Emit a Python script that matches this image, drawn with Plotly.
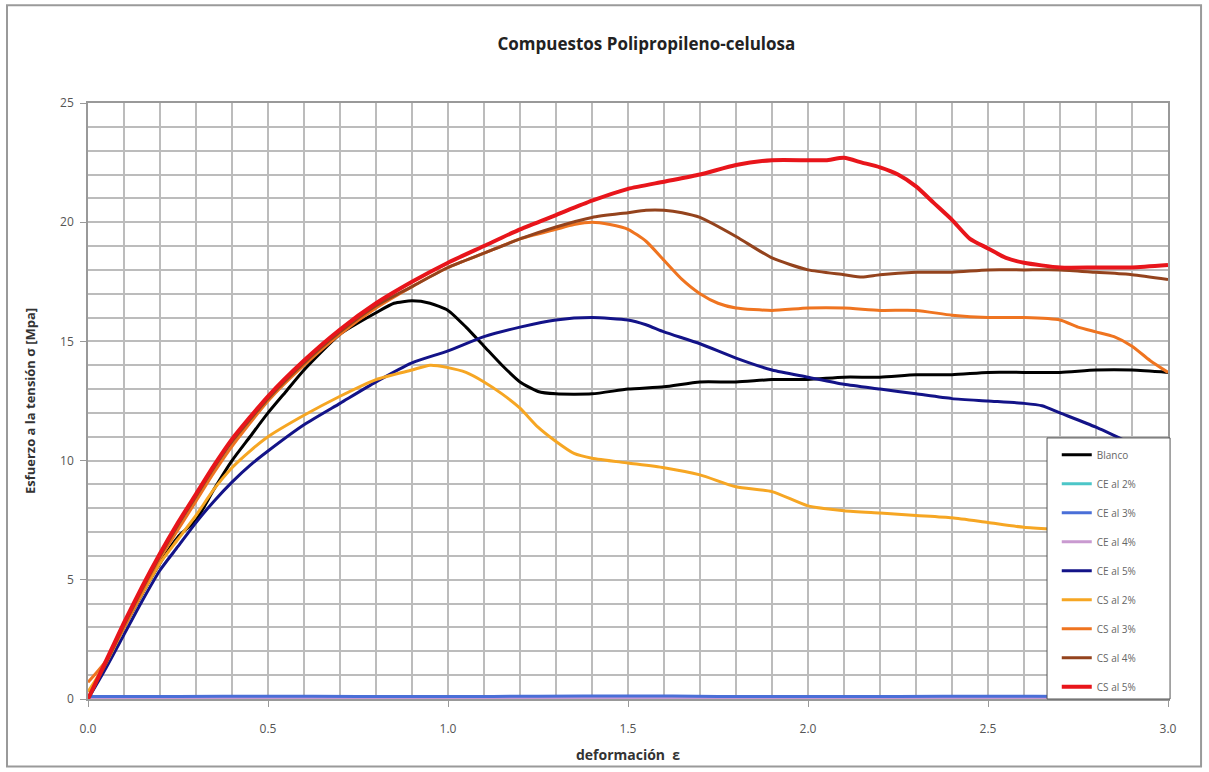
import plotly.graph_objects as go

# Strain grid shared by the near-zero CE series
x_flat = [0.0, 0.25, 0.5, 0.75, 1.0, 1.25, 1.5, 1.75, 2.0, 2.25, 2.5, 2.75, 3.0]

# Blanco
x_blanco = [0.0, 0.1, 0.2, 0.25, 0.3, 0.35, 0.4, 0.45, 0.5, 0.55, 0.6, 0.7, 0.8, 0.85, 0.9, 0.95,
            1.0, 1.05, 1.1, 1.15, 1.2, 1.25, 1.3, 1.4, 1.5, 1.6, 1.7, 1.8, 1.9, 2.0, 2.1, 2.2,
            2.3, 2.4, 2.5, 2.6, 2.7, 2.8, 2.9, 3.0]
y_blanco = [0.0, 3.0, 5.7, 6.8, 7.5, 8.8, 10.0, 11.0, 12.0, 12.9, 13.8, 15.3, 16.2, 16.6, 16.7, 16.6,
            16.3, 15.6, 14.8, 14.0, 13.3, 12.9, 12.8, 12.8, 13.0, 13.1, 13.3, 13.3, 13.4, 13.4, 13.5, 13.5,
            13.6, 13.6, 13.7, 13.7, 13.7, 13.8, 13.8, 13.7]

# CE al 2% / 3% / 4% (stay at the baseline)
y_ce2 = [0.06, 0.07, 0.06, 0.08, 0.07, 0.06, 0.07, 0.08, 0.06, 0.07, 0.07, 0.06, 0.07]
y_ce3 = [0.10, 0.11, 0.12, 0.11, 0.10, 0.12, 0.13, 0.11, 0.10, 0.11, 0.12, 0.11, 0.10]
y_ce4 = [0.05, 0.06, 0.05, 0.05, 0.06, 0.05, 0.06, 0.05, 0.05, 0.06, 0.05, 0.05, 0.06]

# CE al 5%
x_ce5 = [0.0, 0.05, 0.1, 0.15, 0.2, 0.25, 0.3, 0.35, 0.4, 0.45, 0.5, 0.6, 0.7, 0.8, 0.9, 1.0,
         1.1, 1.2, 1.3, 1.4, 1.5, 1.55, 1.6, 1.7, 1.8, 1.9, 2.0, 2.1, 2.2, 2.3, 2.4, 2.5,
         2.6, 2.65, 2.7, 2.8, 2.9, 3.0]
y_ce5 = [0.0, 1.3, 2.7, 4.1, 5.4, 6.4, 7.4, 8.3, 9.1, 9.8, 10.4, 11.5, 12.4, 13.3, 14.1, 14.6,
         15.2, 15.6, 15.9, 16.0, 15.9, 15.7, 15.4, 14.9, 14.3, 13.8, 13.5, 13.2, 13.0, 12.8, 12.6, 12.5,
         12.4, 12.3, 12.0, 11.4, 10.7, 10.0]

# CS al 2%
x_cs2 = [0.0, 0.05, 0.1, 0.15, 0.2, 0.25, 0.3, 0.35, 0.4, 0.45, 0.5, 0.6, 0.7, 0.8, 0.9, 0.95,
         1.0, 1.05, 1.1, 1.15, 1.2, 1.25, 1.3, 1.35, 1.4, 1.5, 1.6, 1.7, 1.8, 1.9, 2.0, 2.1,
         2.2, 2.3, 2.4, 2.5, 2.6, 2.7, 2.8, 2.9, 3.0]
y_cs2 = [0.3, 1.5, 3.0, 4.4, 5.7, 6.7, 7.7, 8.8, 9.7, 10.4, 11.0, 11.9, 12.7, 13.4, 13.8, 14.0,
         13.9, 13.7, 13.3, 12.8, 12.2, 11.4, 10.8, 10.3, 10.1, 9.9, 9.7, 9.4, 8.9, 8.7, 8.1, 7.9,
         7.8, 7.7, 7.6, 7.4, 7.2, 7.1, 7.0, 6.9, 6.8]

# CS al 3%
x_cs3 = [0.0, 0.05, 0.1, 0.15, 0.2, 0.25, 0.3, 0.35, 0.4, 0.5, 0.6, 0.7, 0.8, 0.9, 1.0, 1.1,
         1.2, 1.3, 1.35, 1.4, 1.45, 1.5, 1.55, 1.6, 1.65, 1.7, 1.75, 1.8, 1.9, 2.0, 2.1, 2.2,
         2.3, 2.4, 2.5, 2.6, 2.7, 2.75, 2.8, 2.85, 2.9, 2.95, 3.0]
y_cs3 = [0.7, 1.6, 3.0, 4.5, 5.9, 7.1, 8.3, 9.5, 10.6, 12.5, 14.0, 15.3, 16.4, 17.3, 18.1, 18.7,
         19.3, 19.7, 19.9, 20.0, 19.9, 19.7, 19.2, 18.4, 17.6, 17.0, 16.6, 16.4, 16.3, 16.4, 16.4, 16.3,
         16.3, 16.1, 16.0, 16.0, 15.9, 15.6, 15.4, 15.2, 14.8, 14.2, 13.7]

# CS al 4%
x_cs4 = [0.0, 0.05, 0.1, 0.15, 0.2, 0.25, 0.3, 0.35, 0.4, 0.5, 0.6, 0.7, 0.8, 0.9, 1.0, 1.1,
         1.2, 1.3, 1.4, 1.5, 1.55, 1.6, 1.65, 1.7, 1.8, 1.9, 2.0, 2.1, 2.15, 2.2, 2.3, 2.4,
         2.5, 2.6, 2.7, 2.8, 2.9, 3.0]
y_cs4 = [0.0, 1.5, 3.1, 4.6, 6.0, 7.3, 8.5, 9.7, 10.8, 12.6, 14.1, 15.4, 16.5, 17.3, 18.1, 18.7,
         19.3, 19.8, 20.2, 20.4, 20.5, 20.5, 20.4, 20.2, 19.4, 18.5, 18.0, 17.8, 17.7, 17.8, 17.9, 17.9,
         18.0, 18.0, 18.0, 17.9, 17.8, 17.6]

# CS al 5%
x_cs5 = [0.0, 0.05, 0.1, 0.15, 0.2, 0.25, 0.3, 0.35, 0.4, 0.5, 0.6, 0.7, 0.8, 0.9, 1.0, 1.1,
         1.2, 1.3, 1.4, 1.5, 1.6, 1.7, 1.8, 1.9, 2.0, 2.05, 2.1, 2.15, 2.2, 2.25, 2.3, 2.35,
         2.4, 2.45, 2.5, 2.55, 2.6, 2.7, 2.8, 2.9, 3.0]
y_cs5 = [0.0, 1.6, 3.2, 4.7, 6.1, 7.4, 8.6, 9.8, 10.9, 12.7, 14.2, 15.5, 16.6, 17.5, 18.3, 19.0,
         19.7, 20.3, 20.9, 21.4, 21.7, 22.0, 22.4, 22.6, 22.6, 22.6, 22.7, 22.5, 22.3, 22.0, 21.5, 20.8,
         20.1, 19.3, 18.9, 18.5, 18.3, 18.1, 18.1, 18.1, 18.2]

series = [
    ("Blanco", x_blanco, y_blanco, "#000000", 3),
    ("CE al 2%", x_flat, y_ce2, "#4cc6c8", 3),
    ("CE al 4%", x_flat, y_ce4, "#c99ad0", 3),
    ("CE al 3%", x_flat, y_ce3, "#4a6fd8", 3),
    ("CE al 5%", x_ce5, y_ce5, "#131388", 3),
    ("CS al 2%", x_cs2, y_cs2, "#f6a623", 3),
    ("CS al 3%", x_cs3, y_cs3, "#ef7420", 3),
    ("CS al 4%", x_cs4, y_cs4, "#94431d", 3),
    ("CS al 5%", x_cs5, y_cs5, "#e8151b", 4),
]
legend_order = ["Blanco", "CE al 2%", "CE al 3%", "CE al 4%", "CE al 5%",
                "CS al 2%", "CS al 3%", "CS al 4%", "CS al 5%"]

fig = go.Figure()
for name, xs, ys, color, width in series:
    fig.add_trace(go.Scatter(
        x=xs, y=ys, name=name, mode="lines", legendgroup=name,
        legendrank=legend_order.index(name) + 1,
        line=dict(color=color, width=width, shape="spline", smoothing=0.6),
    ))

grid_col = "#bcbcbc"
font_main = "Open Sans, Liberation Sans, sans-serif"

fig.update_layout(
    width=1209, height=772,
    margin=dict(l=88, r=41, t=103, b=73),
    paper_bgcolor="white", plot_bgcolor="white",
    font=dict(family=font_main, color="#404040"),
    title=dict(text="<b>Compuestos Polipropileno-celulosa</b>",
               x=0.517, xref="paper", xanchor="center",
               y=1 - 44 / 772, yanchor="middle",
               font=dict(size=17, color="#222222")),
    showlegend=True,
    legend=dict(
        x=0.897, y=0.434, xanchor="left", yanchor="top",
        bgcolor="rgba(0,0,0,0)", borderwidth=0,
        font=dict(size=10, color="#666666"),
        tracegroupgap=10,
    ),
    xaxis=dict(
        range=[0, 3], dtick=0.5, tickformat=".1f", automargin=False,
        showgrid=True, gridcolor=grid_col, gridwidth=1.5,
        minor=dict(dtick=0.1, showgrid=True, gridcolor=grid_col, gridwidth=1.5),
        ticks="outside", ticklen=6, tickcolor="#999999",
        ticklabelstandoff=12,
        showline=True, linecolor="#999999", linewidth=1.5, mirror=True,
        zeroline=False,
        tickfont=dict(size=12, color="#555555"),
        title=dict(text="<b>deformación  ε</b>", font=dict(size=14, color="#333333"), standoff=14),
    ),
    yaxis=dict(
        range=[0, 25], dtick=5, automargin=False,
        showgrid=True, gridcolor=grid_col, gridwidth=1.5,
        minor=dict(dtick=1, showgrid=True, gridcolor=grid_col, gridwidth=1.5),
        ticks="outside", ticklen=6, tickcolor="#999999",
        ticklabelstandoff=4,
        showline=True, linecolor="#999999", linewidth=1.5, mirror=True,
        zeroline=False,
        tickfont=dict(size=12, color="#555555"),
        title=dict(text="<b>Esfuerzo a la tensión σ [Mpa]</b>", font=dict(size=13, color="#333333"),
                   standoff=22),
    ),
    shapes=[
        # outer chart frame
        dict(type="rect", xref="paper", yref="paper",
             x0=-0.075, x1=1.0306, y0=-0.1134, y1=1.1639,
             line=dict(color="#9a9a9a", width=2), fillcolor="rgba(0,0,0,0)", layer="below"),
        # legend box, opaque over the curves
        dict(type="rect", xref="paper", yref="paper",
             x0=0.888, x1=1.0019, y0=0.0, y1=0.438,
             line=dict(color="#555555", width=1), fillcolor="white", layer="above"),
    ],
)

fig.write_html("out.html")
